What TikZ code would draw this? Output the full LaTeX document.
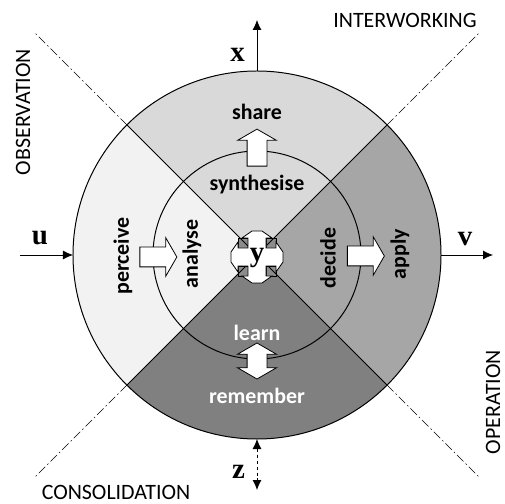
\documentclass[tikz,border=0pt]{standalone}
\usepackage{fontspec}
\setmainfont{Carlito}
\newfontfamily\letterfont{Liberation Serif}
\usepackage{xcolor}
\usepackage{tikz}
\usetikzlibrary{arrows.meta,shapes.arrows}

\definecolor{obsgray}{gray}{0.95}
\definecolor{intgray}{gray}{0.85}
\definecolor{opgray}{gray}{0.65}
\definecolor{congray}{gray}{0.5}
\definecolor{notchgray}{gray}{0.55}

\begin{document}
\begin{tikzpicture}[
    x=1bp, y=1bp, line width=1pt,
    >={Latex[length=10bp,width=9bp]},
    every node/.style={font=\fontsize{22}{24}\selectfont},
    phase/.style={font=\fontsize{22}{24}\selectfont\bfseries},
    axislabel/.style={font=\letterfont\fontsize{29}{30}\selectfont\bfseries},
    ring/.style={draw, circle, inner sep=0, outer sep=0},
    flow/.style={draw, fill=white, line width=0.8pt, inner xsep=0, inner ysep=9.5bp, minimum height=37bp, minimum width=38bp},
    onearrow/.style={flow, single arrow, single arrow head extend=9.5bp, single arrow tip angle=120},
    twoarrow/.style={flow, double arrow, double arrow head extend=9.5bp, double arrow tip angle=120},
    axis/.style={line width=0.8pt, ->},
    border/.style={line width=0.7pt, dash pattern=on 9bp off 3bp on 1.5bp off 3bp},
]
\useasboundingbox (-257,-249) rectangle (248,255);
\foreach \a/\c in {45/intgray,135/obsgray,225/congray,315/opgray}
    \fill[\c] (0,0) -- (\a:184) arc[start angle=\a, delta angle=90, radius=184] -- cycle;
\node [ring, minimum size=368bp] (outer) at (0,0) {};
\node [ring, minimum size=208bp] (inner) at (0,0) {};
\foreach \r in {0,90,180,270}
    \filldraw[notchgray, draw=black, line width=0.6pt, shift={(0,-2)}, rotate=\r] (9,9) rectangle (19,19);
\draw (outer.135) -- (outer.-45);
\draw (outer.45) -- (outer.-135);
\draw[fill=white, line width=0.8pt, shift={(0,-2)}] (9,9) -- (9,19) -- (15,19) -- (5,26) -- (-5,26) -- (-15,19) -- (-9,19) -- (-9,9)
    -- (-19,9) -- (-19,15) -- (-26,5) -- (-26,-5) -- (-19,-15) -- (-19,-9) -- (-9,-9)
    -- (-9,-19) -- (-15,-19) -- (-5,-26) -- (5,-26) -- (15,-19) -- (9,-19) -- (9,-9)
    -- (19,-9) -- (19,-15) -- (26,-5) -- (26,5) -- (19,15) -- (19,9) -- cycle;
\node [axislabel] (y) at (0,-3) {y};

\node [phase] (share) at (0,143) {share};
\node [phase] (synthesise) at (0,70) {synthesise};
\node [phase, rotate=90] (perceive) at (-134,-1) {perceive};
\node [phase, rotate=90] (analyse) at (-65,1) {analyse};
\node [phase, rotate=90] (decide) at (71,-3) {decide};
\node [phase, rotate=90] (apply) at (143,1) {apply};
\node [phase, white] (learn) at (0,-78) {learn};
\node [phase, white] (remember) at (0,-141) {remember};

\node [onearrow] (toanalyse) at (-101.5,-2) {};
\node [onearrow] (toapply) at (106,-1) {};
\node [onearrow, rotate=90] (toshare) at (0,104.5) {};
\node [twoarrow, minimum height=36bp, rotate=90] (recall) at (0,-106) {};

\coordinate (xend) at (0,235);
\coordinate (ustart) at (-237,0);
\coordinate (vend) at (236,0);
\coordinate (zend) at (0,-235);
\draw[axis] (outer.north) -- (xend);
\draw[axis] (ustart) -- (outer.west);
\draw[axis] (outer.east) -- (vend);
\draw[axis, <->, dashed] (outer.south) -- (zend);
\node [axislabel] (xlabel) at (-19.5,200.5) {x};
\node [axislabel] (ulabel) at (-217,17) {u};
\node [axislabel] (vlabel) at (208,15.5) {v};
\node [axislabel] (zlabel) at (-18.5,-216.5) {z};

\foreach \a in {45,135,225,315} {
    \coordinate (edge\a) at (\a:314);
    \draw[border] (outer.\a) -- (edge\a);
}
\node [rotate=90] (observation) at (-234,143) {OBSERVATION};
\node (interworking) at (148,235) {INTERWORKING};
\node (consolidation) at (-141,-237) {CONSOLIDATION};
\node [rotate=90] (operation) at (236,-147) {OPERATION};
\end{tikzpicture}
\end{document}
